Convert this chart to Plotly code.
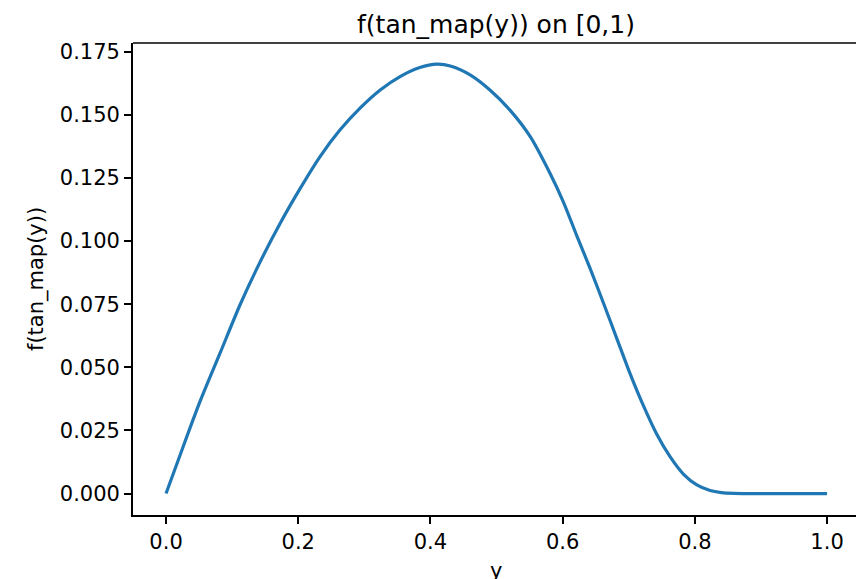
import plotly.graph_objects as go

y_vals = [0.0, 0.021, 0.051, 0.082, 0.112, 0.142, 0.1725, 0.203, 0.233, 0.263, 0.2935,
          0.324, 0.354, 0.384, 0.41, 0.43, 0.46, 0.49, 0.52, 0.551, 0.581, 0.601, 0.621,
          0.6415, 0.662, 0.682, 0.702, 0.722, 0.742, 0.7625, 0.783, 0.803, 0.823, 0.84,
          0.86, 0.9, 0.95, 1.0]
f_vals = [0.0, 0.0151, 0.0362, 0.0558, 0.0748, 0.0916, 0.1070, 0.1209, 0.1335, 0.1440, 0.1527,
          0.1599, 0.1652, 0.1688, 0.1701, 0.1694, 0.1659, 0.1599, 0.1520, 0.1414, 0.1268, 0.1156,
          0.1024, 0.0892, 0.0753, 0.0614, 0.0475, 0.0349, 0.0237, 0.0146, 0.0076, 0.0034, 0.0012,
          0.0004, 0.0001, 0.0, 0.0, 0.0]

x_ticks = [0.0, 0.2, 0.4, 0.6, 0.8, 1.0]
y_ticks = [0.0, 0.025, 0.05, 0.075, 0.1, 0.125, 0.15, 0.175]

FONT = "DejaVu Sans"
W, H = 856, 579
L, R, T, B = 133, 0, 43, 64

fig = go.Figure()
fig.add_trace(go.Scatter(x=y_vals, y=f_vals, mode="lines",
                         line=dict(color="#1f77b4", width=3.2, shape="spline", smoothing=0.8),
                         showlegend=False))

fig.update_layout(
    width=W, height=H,
    margin=dict(l=L, r=R, t=T, b=B),
    paper_bgcolor="white", plot_bgcolor="white",
    font=dict(family=FONT, size=21, color="black"),
    title=dict(text="f(tan_map(y)) on [0,1)", font=dict(family=FONT, size=25, color="black"),
               x=496 / W, xanchor="center", xref="container",
               y=1 - 24 / H, yanchor="middle", yref="container"),
    xaxis=dict(range=[-0.05, 1.0438], tickvals=x_ticks, ticktext=[f"{v:.1f}" for v in x_ticks],
               showgrid=False, zeroline=False, showline=True, linecolor="black", linewidth=1.7,
               ticks="outside", ticklen=7, tickwidth=1.7, tickcolor="black",
               tickfont=dict(family=FONT, size=21, color="black")),
    yaxis=dict(range=[-0.0085, 0.1785], tickvals=y_ticks, ticktext=[f"{v:.3f}" for v in y_ticks],
               showgrid=False, zeroline=False, showline=True, linecolor="black", linewidth=1.7,
               ticks="outside", ticklen=7, tickwidth=1.7, tickcolor="black",
               tickfont=dict(family=FONT, size=21, color="black")),
)

# top spine
fig.add_shape(type="line", xref="paper", yref="paper", x0=0, x1=1, y0=1, y1=1,
              line=dict(color="black", width=1.7))

plot_h = H - T - B
fig.add_annotation(text="y", xref="paper", yref="paper", x=(496 - L) / (W - L - R),
                   y=(515 - 571) / plot_h, xanchor="center", yanchor="middle",
                   showarrow=False, font=dict(family=FONT, size=21, color="black"))
fig.add_annotation(text="f(tan_map(y))", xref="paper", yref="paper", x=(36 - L) / (W - L - R),
                   y=0.5, xanchor="center", yanchor="middle", textangle=-90,
                   showarrow=False, font=dict(family=FONT, size=21, color="black"))

fig.write_html("out.html")
